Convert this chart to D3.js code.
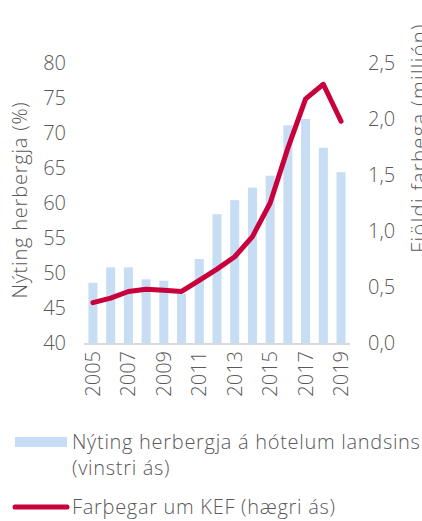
<!DOCTYPE html>
<html>
<head>
<meta charset="utf-8">
<script src="https://cdn.jsdelivr.net/npm/d3@7"></script>
<style>
  body { margin: 0; background: #fff; }
  svg text { font-family: "Open Sans", sans-serif; font-weight: 300; fill: #595959; }
</style>
</head>
<body>
<div id="chart"></div>
<script>
// Years on the x axis
const years = d3.range(2005, 2020);
// Room occupancy in hotels (%), left axis
const occupancy = [48.6, 50.8, 50.8, 49.1, 48.9, 47.0, 52.0, 58.4, 60.4, 62.2, 63.9, 71.1, 72.0, 67.9, 64.4];
// Passengers through KEF (millions), right axis
const passengers = [0.36, 0.40, 0.46, 0.48, 0.47, 0.46, 0.56, 0.66, 0.77, 0.95, 1.25, 1.74, 2.18, 2.31, 1.98];
const leftTicks = [40, 45, 50, 55, 60, 65, 70, 75, 80];
const rightTicks = [0, 0.5, 1, 1.5, 2, 2.5];
const yearLabels = [2005, 2007, 2009, 2011, 2013, 2015, 2017, 2019];

const width = 422, height = 521;
const margin = { top: 63, left: 84, right: 350, bottom: 343 };
const fontSize = '20px';

const svg = d3.select('#chart').append('svg')
  .attr('width', width)
  .attr('height', height);

const x = d3.scaleBand()
  .domain(years)
  .range([margin.left, margin.right])
  .paddingInner(0.49)
  .paddingOuter(0.25);

const yLeft = d3.scaleLinear().domain([40, 80]).range([margin.bottom, margin.top]);
const yRight = d3.scaleLinear().domain([0, 2.5]).range([margin.bottom, margin.top]);

const fmt = d3.format('.1f');

// Bars
svg.selectAll('rect.bar')
  .data(years)
  .enter()
  .append('rect')
  .attr('class', 'bar')
  .attr('x', d => x(d))
  .attr('width', x.bandwidth())
  .attr('y', (d, i) => yLeft(occupancy[i]))
  .attr('height', (d, i) => yLeft(40) - yLeft(occupancy[i]))
  .style('fill', '#c6ddf4');

// Baseline
svg.append('line')
  .attr('x1', margin.left)
  .attr('x2', margin.right)
  .attr('y1', margin.bottom + 1)
  .attr('y2', margin.bottom + 1)
  .style('stroke', '#d9d9d9')
  .style('stroke-width', 2);

// Line
const line = d3.line()
  .x((d, i) => x(years[i]) + x.bandwidth() / 2)
  .y(d => yRight(d));

svg.append('path')
  .datum(passengers)
  .attr('d', line)
  .style('fill', 'none')
  .style('stroke', '#c8003c')
  .style('stroke-width', 5)
  .style('stroke-linecap', 'round')
  .style('stroke-linejoin', 'round');

// Left axis
const leftAxis = svg.append('g')
  .attr('transform', `translate(${margin.left - 18},0)`)
  .call(d3.axisLeft(yLeft).tickValues(leftTicks).tickSize(0).tickPadding(0));
leftAxis.select('.domain').remove();

// Right axis
const rightAxis = svg.append('g')
  .attr('transform', `translate(${margin.right + 18},0)`)
  .call(d3.axisRight(yRight).tickValues(rightTicks).tickSize(0).tickPadding(0)
    .tickFormat(d => fmt(d).replace('.', ',')));
rightAxis.select('.domain').remove();

// X axis
const xAxis = svg.append('g')
  .attr('transform', `translate(0,${margin.bottom + 8})`)
  .call(d3.axisBottom(x).tickValues(yearLabels).tickSize(0).tickPadding(0));
xAxis.select('.domain').remove();
xAxis.selectAll('text')
  .attr('transform', 'rotate(-90)')
  .attr('x', 0)
  .attr('y', 0)
  .attr('dy', '0.35em')
  .style('text-anchor', 'end');

svg.selectAll('.tick text')
  .style('font-size', fontSize)
  .style('fill', '#595959')
  .style('font-family', '"Open Sans", sans-serif');

// Axis titles
svg.append('text')
  .attr('transform', 'rotate(-90)')
  .attr('x', -200)
  .attr('y', 27)
  .style('text-anchor', 'middle')
  .style('font-size', fontSize)
  .style('letter-spacing', '0.8px')
  .text('Nýting herbergja (%)');

svg.append('text')
  .attr('transform', 'rotate(-90)')
  .attr('x', -138)
  .attr('y', 426)
  .style('text-anchor', 'middle')
  .style('font-size', fontSize)
  .style('letter-spacing', '1.4px')
  .text('Fjöldi farþega (milljón)');

// Legend
svg.append('rect')
  .attr('x', 15)
  .attr('y', 437)
  .attr('width', 52)
  .attr('height', 10)
  .style('fill', '#c6ddf4');

svg.append('text')
  .attr('x', 72)
  .attr('y', 449)
  .style('font-size', fontSize)
  .style('letter-spacing', '0.7px')
  .text('Nýting herbergja á hótelum landsins');

svg.append('text')
  .attr('x', 72)
  .attr('y', 475)
  .style('font-size', fontSize)
  .style('letter-spacing', '0.7px')
  .text('(vinstri ás)');

svg.append('line')
  .attr('x1', 15)
  .attr('x2', 67)
  .attr('y1', 507)
  .attr('y2', 507)
  .style('stroke', '#c8003c')
  .style('stroke-width', 5)
  .style('stroke-linecap', 'round');

svg.append('text')
  .attr('x', 72)
  .attr('y', 514)
  .style('font-size', fontSize)
  .style('letter-spacing', '0.7px')
  .text('Farþegar um KEF (hægri ás)');
</script>
</body>
</html>
